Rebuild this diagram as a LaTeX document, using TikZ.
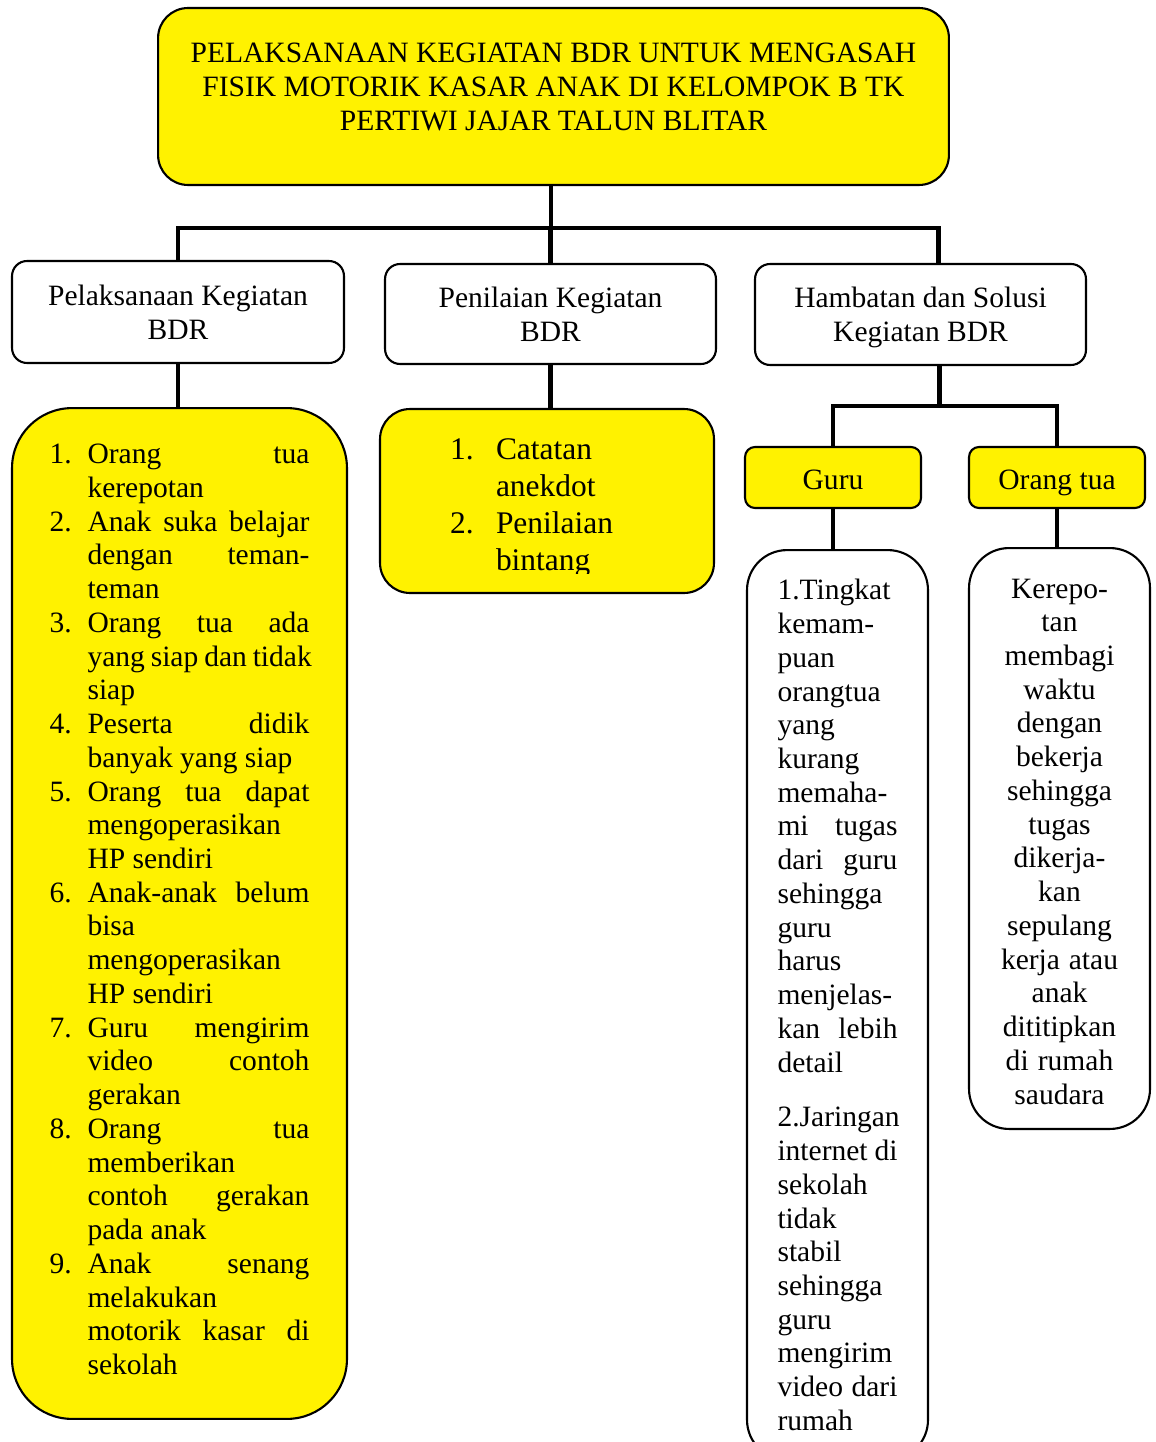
\documentclass[tikz,border=0pt]{standalone}
\usepackage{fontspec}
\setmainfont{Liberation Serif}

% justified line and list number
\newcommand{\jl}[2][4.44cm]{{\spaceskip=.25em plus 10em minus .05em\relax\makebox[#1][s]{#2}}}
\newcommand{\nr}[1]{\makebox[0.76cm][l]{#1}}
\newcommand{\nrb}[1]{\makebox[0.92cm][l]{#1}}

\tikzset{
  yellowbox/.style={draw=black, line width=1.2pt, fill=yellow, rounded corners=#1},
  whitebox/.style={draw=black, line width=1.2pt, fill=white, rounded corners=#1},
  conn/.style={line width=2.3pt},
  txt/.style={font=\fontsize{16.8}{19.2}\selectfont, execute at begin node={\spaceskip=0pt\relax}},
  label/.style={txt, text height=0.46cm, text depth=0cm}
}

\begin{document}
\begin{tikzpicture}[x=0.02cm, y=-0.02cm]
\useasboundingbox (0,0) rectangle (1155,1442);

% Title
\node[yellowbox=0.6cm, minimum width=15.82cm, minimum height=3.54cm] (title) at (553.5,96.5) {};
\node[txt, align=center] (titletext) at (553.5,87) {PELAKSANAAN KEGIATAN BDR UNTUK MENGASAH\\FISIK MOTORIK KASAR ANAK DI KELOMPOK B TK\\PERTIWI JAJAR TALUN BLITAR};

% Second level
\node[whitebox=0.3cm, minimum width=6.64cm, minimum height=2.04cm, txt, align=center] (pelaksanaan) at (178,312) {Pelaksanaan Kegiatan\\BDR};
\node[whitebox=0.3cm, minimum width=6.62cm, minimum height=2.0cm, txt, align=center] (penilaian) at (550.5,314) {Penilaian Kegiatan\\BDR};
\node[whitebox=0.3cm, minimum width=6.62cm, minimum height=2.02cm, txt, align=center] (hambatan) at (920.5,314.5) {};
\node[txt, align=center] (hambtext) at (920.5,317.5) {Hambatan dan Solusi\\Kegiatan BDR};

% Pelaksanaan list
\node[yellowbox=1.2cm, minimum width=6.7cm, minimum height=20.22cm] (pellist) at (179.5,913.5) {};
\node[txt, text width=5.2cm, align=left] (pellines) at (179.5,909.5) {%
\nr{1.}\jl{Orang tua}\\
\nr{}kerepotan\\
\nr{2.}\jl{Anak suka belajar}\\
\nr{}\jl{dengan teman-}\\
\nr{}teman\\
\nr{3.}\jl{Orang tua ada}\\
\nr{}\jl{yang siap dan tidak}\\
\nr{}siap\\
\nr{4.}\jl{Peserta didik}\\
\nr{}banyak yang siap\\
\nr{5.}\jl{Orang tua dapat}\\
\nr{}mengoperasikan\\
\nr{}HP sendiri\\
\nr{6.}\jl{Anak-anak belum}\\
\nr{}bisa\\
\nr{}mengoperasikan\\
\nr{}HP sendiri\\
\nr{7.}\jl{Guru mengirim}\\
\nr{}\jl{video contoh}\\
\nr{}gerakan\\
\nr{8.}\jl{Orang tua}\\
\nr{}memberikan\\
\nr{}\jl{contoh gerakan}\\
\nr{}pada anak\\
\nr{9.}\jl{Anak senang}\\
\nr{}melakukan\\
\nr{}\jl{motorik kasar di}\\
\nr{}sekolah};

% Penilaian list (text cut at the bottom)
\node[yellowbox=0.6cm, minimum width=6.68cm, minimum height=3.68cm] (nillist) at (547,501) {};
\begin{scope}
\clip (380,409) rectangle (714,573);
\node[font=\fontsize{17.9}{21.05}\selectfont, text width=3.88cm, align=left] (niltext) at (547,508) {%
\nrb{1.}Catatan\\
\nrb{}anekdot\\
\nrb{2.}Penilaian\\
\nrb{}bintang};
\end{scope}

% Hambatan branch
\node[yellowbox=0.2cm, minimum width=3.52cm, minimum height=1.22cm, label] (guru) at (833,477.5) {Guru};
\node[yellowbox=0.2cm, minimum width=3.52cm, minimum height=1.22cm, label] (ortu) at (1057,477.5) {Orang tua};

\node[whitebox=0.8cm, minimum width=3.62cm, minimum height=18.2cm, txt, text width=2.4cm, align=left] (gurutext) at (837.5,1005) {%
1.Tingkat\\
kemam-\\
puan\\
orangtua\\
yang\\
kurang\\
memaha-\\
\jl[2.4cm]{mi tugas}\\
\jl[2.4cm]{dari guru}\\
sehingga\\
guru\\
harus\\
menjelas-\\
\jl[2.4cm]{kan lebih}\\
detail\\[0.42cm]
2.Jaringan\\
\jl[2.4cm]{internet di}\\
sekolah\\
tidak\\
stabil\\
sehingga\\
guru\\
mengirim\\
\jl[2.4cm]{video dari}\\
rumah};

\node[whitebox=0.8cm, minimum width=3.62cm, minimum height=11.62cm] (ortutext) at (1059.5,838.5) {};
\node[txt, text width=3.3cm, align=center] (ortulines) at (1059.5,841.5) {%
Kerepo-\\
tan\\
membagi\\
waktu\\
dengan\\
bekerja\\
sehingga\\
tugas\\
dikerja-\\
kan\\
sepulang\\
kerja atau\\
anak\\
dititipkan\\
di rumah\\
saudara};

% Connectors
\coordinate (bar) at (0,228);
\coordinate (bar2) at (0,406);
\coordinate (titlebot) at ([xshift=-0.05cm]title.south);
\coordinate (hambtop) at ([xshift=0.36cm]hambatan.north);
\coordinate (hambbot) at ([xshift=0.38cm]hambatan.south);

\draw[conn] (titlebot) -- (titlebot |- bar);
\draw[conn] (pelaksanaan.north) -- (pelaksanaan.north |- bar) -- (hambtop |- bar) -- (hambtop);
\draw[conn] (penilaian.north) -- (penilaian.north |- bar);

\draw[conn] (pelaksanaan.south) -- (pelaksanaan.south |- pellist.north);
\draw[conn] (penilaian.south) -- (penilaian.south |- nillist.north);

\draw[conn] (hambbot) -- (hambbot |- bar2);
\draw[conn] (guru.north) -- (guru.north |- bar2) -- (ortu.north |- bar2) -- (ortu.north);
\draw[conn] (guru.south) -- (guru.south |- gurutext.north);
\draw[conn] (ortu.south) -- (ortu.south |- ortutext.north);

\end{tikzpicture}
\end{document}
